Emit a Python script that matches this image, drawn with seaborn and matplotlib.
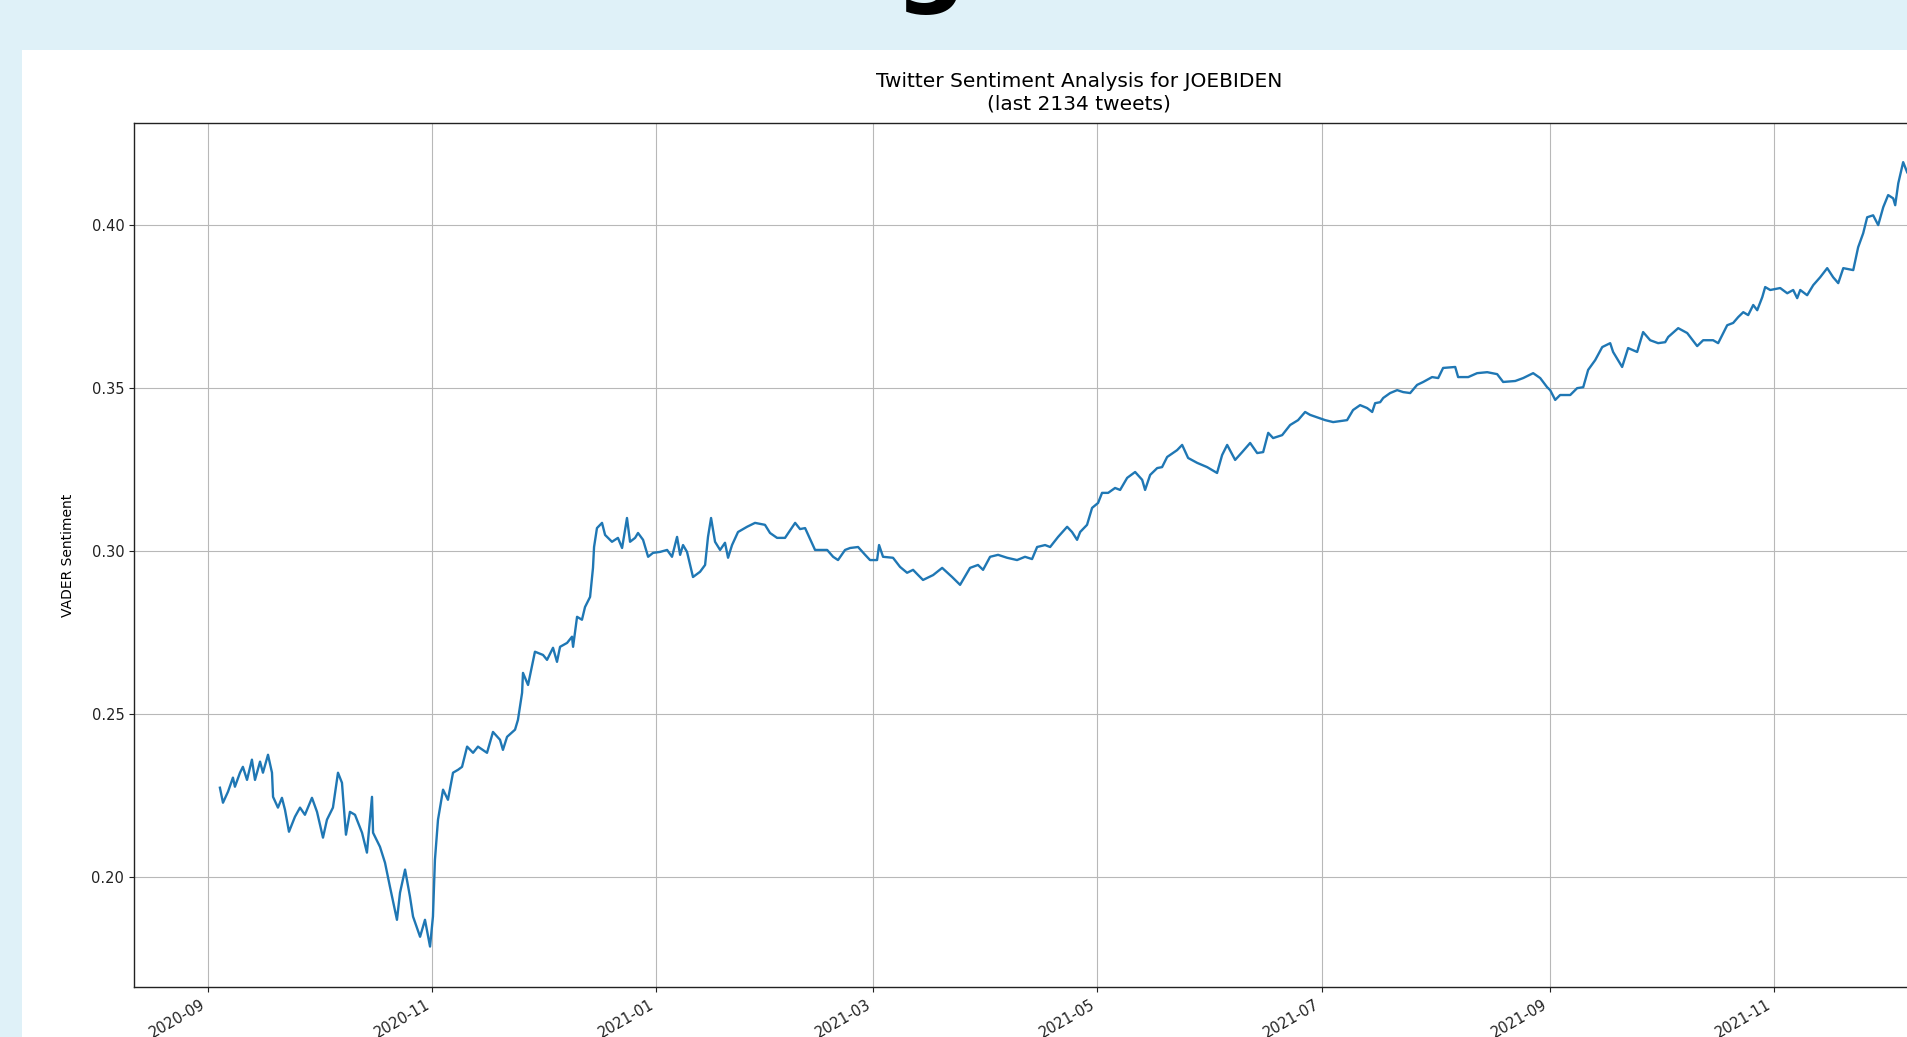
import matplotlib
matplotlib.use("Agg")
import matplotlib.pyplot as plt
import matplotlib.dates as mdates
from matplotlib.patches import Rectangle
import pandas as pd
import seaborn as sns

# Rolling VADER sentiment of tweets mentioning JOEBIDEN
timestamps = [
    # Sep - early Nov 2020
    "2020-09-04 06:00", "2020-09-05 02:00", "2020-09-06 11:00", "2020-09-07 19:00",
    "2020-09-08 08:00", "2020-09-09 17:00", "2020-09-10 12:00", "2020-09-11 15:00",
    "2020-09-12 23:00", "2020-09-13 19:00", "2020-09-15 04:00", "2020-09-15 23:00",
    "2020-09-17 08:00", "2020-09-18 10:00", "2020-09-18 17:00", "2020-09-20 01:00",
    "2020-09-21 03:00", "2020-09-21 23:00", "2020-09-23 01:00", "2020-09-24 16:00",
    "2020-09-26 01:00", "2020-09-27 09:00", "2020-09-29 07:00", "2020-09-30 16:00",
    "2020-10-02 07:00", "2020-10-03 09:00", "2020-10-05 00:00", "2020-10-06 09:00",
    "2020-10-07 11:00", "2020-10-08 13:00", "2020-10-09 15:00", "2020-10-11 00:00",
    "2020-10-12 22:00", "2020-10-14 06:00", "2020-10-15 15:00", "2020-10-15 22:00",
    "2020-10-17 19:00", "2020-10-19 04:00", "2020-10-20 12:00", "2020-10-22 10:00",
    "2020-10-23 06:00", "2020-10-24 15:00", "2020-10-25 23:00", "2020-10-26 19:00",
    "2020-10-28 17:00", "2020-10-30 01:00", "2020-10-31 10:00", "2020-11-01 05:00",
    "2020-11-01 18:00", "2020-11-02 14:00", "2020-11-03 23:00", "2020-11-05 07:00",
    "2020-11-06 16:00", "2020-11-08 01:00",
    # Nov 2020 - early Jan 2021
    "2020-11-09 03:00", "2020-11-10 12:00", "2020-11-12 03:00", "2020-11-13 11:00",
    "2020-11-15 22:00", "2020-11-17 13:00", "2020-11-19 11:00", "2020-11-20 06:00",
    "2020-11-21 09:00", "2020-11-23 13:00", "2020-11-24 08:00", "2020-11-25 11:00",
    "2020-11-25 17:00", "2020-11-27 02:00", "2020-11-28 23:00", "2020-12-01 04:00",
    "2020-12-02 06:00", "2020-12-03 21:00", "2020-12-04 23:00", "2020-12-05 19:00",
    "2020-12-07 17:00", "2020-12-09 01:00", "2020-12-09 08:00", "2020-12-10 10:00",
    "2020-12-11 18:00", "2020-12-12 14:00", "2020-12-13 23:00", "2020-12-14 18:00",
    "2020-12-15 01:00", "2020-12-15 20:00", "2020-12-17 05:00", "2020-12-18 01:00",
    "2020-12-19 22:00", "2020-12-21 13:00", "2020-12-22 16:00", "2020-12-24 00:00",
    "2020-12-24 20:00", "2020-12-26 05:00", "2020-12-27 00:00", "2020-12-28 09:00",
    "2020-12-29 18:00", "2020-12-31 02:00", "2021-01-02 00:00", "2021-01-03 22:00",
    "2021-01-05 06:00", "2021-01-06 15:00",
    # Jan - early Apr 2021
    "2021-01-07 11:00", "2021-01-08 06:00", "2021-01-09 08:00", "2021-01-10 23:00",
    "2021-01-12 21:00", "2021-01-14 06:00", "2021-01-15 01:00", "2021-01-15 21:00",
    "2021-01-16 23:00", "2021-01-18 08:00", "2021-01-19 16:00", "2021-01-20 12:00",
    "2021-01-21 14:00", "2021-01-23 05:00", "2021-01-25 16:00", "2021-01-27 20:00",
    "2021-01-30 13:00", "2021-01-31 22:00", "2021-02-02 20:00", "2021-02-05 00:00",
    "2021-02-07 18:00", "2021-02-09 02:00", "2021-02-10 11:00", "2021-02-13 04:00",
    "2021-02-16 11:00", "2021-02-18 02:00", "2021-02-19 10:00", "2021-02-21 08:00",
    "2021-02-22 17:00", "2021-02-24 21:00", "2021-02-26 19:00", "2021-02-28 03:00",
    "2021-03-02 01:00", "2021-03-02 14:00", "2021-03-03 16:00", "2021-03-06 09:00",
    "2021-03-08 07:00", "2021-03-10 05:00", "2021-03-11 20:00", "2021-03-13 05:00",
    "2021-03-14 13:00", "2021-03-17 07:00", "2021-03-19 18:00", "2021-03-22 11:00",
    "2021-03-24 15:00", "2021-03-27 08:00", "2021-03-29 12:00", "2021-03-30 21:00",
    "2021-04-01 19:00", "2021-04-03 23:00",
    # Apr - mid Jul 2021
    "2021-04-06 10:00", "2021-04-09 03:00", "2021-04-11 07:00", "2021-04-13 05:00",
    "2021-04-14 14:00", "2021-04-16 18:00", "2021-04-18 03:00", "2021-04-20 07:00",
    "2021-04-22 18:00", "2021-04-24 02:00", "2021-04-25 11:00", "2021-04-26 07:00",
    "2021-04-28 04:00", "2021-04-29 13:00", "2021-05-01 04:00", "2021-05-02 06:00",
    "2021-05-03 22:00", "2021-05-05 19:00", "2021-05-07 04:00", "2021-05-09 02:00",
    "2021-05-11 06:00", "2021-05-13 04:00", "2021-05-13 23:00", "2021-05-15 08:00",
    "2021-05-17 06:00", "2021-05-18 14:00", "2021-05-19 23:00", "2021-05-22 16:00",
    "2021-05-24 01:00", "2021-05-25 16:00", "2021-05-28 03:00", "2021-05-30 20:00",
    "2021-06-02 13:00", "2021-06-03 22:00", "2021-06-05 07:00", "2021-06-07 11:00",
    "2021-06-09 09:00", "2021-06-11 13:00", "2021-06-13 11:00", "2021-06-15 02:00",
    "2021-06-16 11:00", "2021-06-17 19:00", "2021-06-20 06:00", "2021-06-22 10:00",
    "2021-06-24 14:00", "2021-06-26 12:00", "2021-06-27 21:00", "2021-07-01 23:00",
    "2021-07-04 03:00", "2021-07-07 22:00", "2021-07-09 13:00", "2021-07-11 11:00",
    # Jul - Sep 2021
    "2021-07-13 09:00", "2021-07-14 18:00", "2021-07-15 13:00", "2021-07-16 22:00",
    "2021-07-17 18:00", "2021-07-19 15:00", "2021-07-21 13:00", "2021-07-23 04:00",
    "2021-07-25 02:00", "2021-07-26 23:00", "2021-07-28 15:00", "2021-07-31 01:00",
    "2021-08-01 17:00", "2021-08-03 01:00", "2021-08-06 08:00", "2021-08-07 03:00",
    "2021-08-09 21:00", "2021-08-12 07:00", "2021-08-15 01:00", "2021-08-17 18:00",
    "2021-08-19 09:00", "2021-08-22 16:00", "2021-08-24 20:00", "2021-08-27 13:00",
    "2021-08-29 11:00", "2021-08-31 08:00", "2021-09-01 04:00", "2021-09-02 13:00",
    "2021-09-03 21:00", "2021-09-06 15:00", "2021-09-08 12:00", "2021-09-10 04:00",
    "2021-09-11 12:00", "2021-09-13 10:00", "2021-09-15 08:00", "2021-09-17 12:00",
    "2021-09-18 07:00", "2021-09-20 18:00", "2021-09-22 09:00", "2021-09-24 20:00",
    # late Sep - Dec 2021
    "2021-09-26 11:00", "2021-09-28 09:00", "2021-09-30 13:00", "2021-10-02 11:00",
    "2021-10-03 07:00", "2021-10-06 00:00", "2021-10-08 11:00", "2021-10-11 04:00",
    "2021-10-12 19:00", "2021-10-15 12:00", "2021-10-16 21:00", "2021-10-19 08:00",
    "2021-10-20 23:00", "2021-10-22 08:00", "2021-10-23 17:00", "2021-10-25 01:00",
    "2021-10-26 10:00", "2021-10-27 12:00", "2021-10-28 21:00", "2021-10-29 16:00",
    "2021-10-31 01:00", "2021-11-02 18:00", "2021-11-04 16:00", "2021-11-06 07:00",
    "2021-11-07 09:00", "2021-11-08 05:00", "2021-11-10 02:00", "2021-11-11 18:00",
    "2021-11-13 15:00", "2021-11-15 13:00", "2021-11-17 04:00", "2021-11-18 13:00",
    "2021-11-19 22:00", "2021-11-22 15:00", "2021-11-23 23:00", "2021-11-25 08:00",
    "2021-11-26 10:00", "2021-11-28 01:00", "2021-11-29 10:00", "2021-11-30 19:00",
    "2021-12-02 03:00", "2021-12-03 12:00", "2021-12-04 01:00", "2021-12-04 21:00",
    "2021-12-06 05:00", "2021-12-07 07:00",
]

sentiment = [
    # Sep - early Nov 2020
    0.2274, 0.2228, 0.2262, 0.2305,
    0.2277, 0.2320, 0.2338, 0.2298,
    0.2360, 0.2298, 0.2354, 0.2320,
    0.2375, 0.2320, 0.2246, 0.2213,
    0.2243, 0.2206, 0.2139, 0.2185,
    0.2213, 0.2191, 0.2243, 0.2200,
    0.2121, 0.2176, 0.2213, 0.2320,
    0.2289, 0.2130, 0.2200, 0.2191,
    0.2136, 0.2075, 0.2246, 0.2136,
    0.2093, 0.2044, 0.1971, 0.1869,
    0.1952, 0.2023, 0.1940, 0.1879,
    0.1817, 0.1869, 0.1787, 0.1879,
    0.2053, 0.2176, 0.2268, 0.2237,
    0.2320, 0.2329,
    # Nov 2020 - early Jan 2021
    0.2338, 0.2400, 0.2381, 0.2400,
    0.2381, 0.2445, 0.2421, 0.2390,
    0.2430, 0.2452, 0.2482, 0.2565,
    0.2626, 0.2589, 0.2691, 0.2681,
    0.2666, 0.2703, 0.2660, 0.2706,
    0.2718, 0.2737, 0.2706, 0.2798,
    0.2789, 0.2828, 0.2859, 0.2948,
    0.3012, 0.3070, 0.3086, 0.3049,
    0.3028, 0.3040, 0.3009, 0.3101,
    0.3028, 0.3040, 0.3055, 0.3034,
    0.2982, 0.2994, 0.2997, 0.3003,
    0.2982, 0.3043,
    # Jan - early Apr 2021
    0.2988, 0.3018, 0.2997, 0.2920,
    0.2936, 0.2957, 0.3043, 0.3101,
    0.3028, 0.3003, 0.3025, 0.2979,
    0.3018, 0.3058, 0.3074, 0.3086,
    0.3080, 0.3055, 0.3040, 0.3040,
    0.3086, 0.3067, 0.3070, 0.3003,
    0.3003, 0.2982, 0.2972, 0.3003,
    0.3009, 0.3012, 0.2988, 0.2972,
    0.2972, 0.3018, 0.2982, 0.2979,
    0.2951, 0.2933, 0.2942, 0.2926,
    0.2911, 0.2926, 0.2948, 0.2920,
    0.2896, 0.2948, 0.2957, 0.2942,
    0.2982, 0.2988,
    # Apr - mid Jul 2021
    0.2979, 0.2972, 0.2982, 0.2975,
    0.3012, 0.3018, 0.3012, 0.3043,
    0.3074, 0.3058, 0.3034, 0.3058,
    0.3080, 0.3132, 0.3147, 0.3178,
    0.3178, 0.3193, 0.3187, 0.3224,
    0.3242, 0.3218, 0.3187, 0.3233,
    0.3254, 0.3257, 0.3288, 0.3309,
    0.3325, 0.3285, 0.3270, 0.3257,
    0.3239, 0.3294, 0.3325, 0.3279,
    0.3303, 0.3331, 0.3300, 0.3303,
    0.3362, 0.3346, 0.3355, 0.3386,
    0.3401, 0.3426, 0.3417, 0.3401,
    0.3395, 0.3401, 0.3432, 0.3447,
    # Jul - Sep 2021
    0.3438, 0.3426, 0.3453, 0.3456,
    0.3469, 0.3484, 0.3493, 0.3487,
    0.3484, 0.3509, 0.3518, 0.3533,
    0.3530, 0.3561, 0.3564, 0.3533,
    0.3533, 0.3545, 0.3548, 0.3542,
    0.3518, 0.3521, 0.3530, 0.3545,
    0.3530, 0.3502, 0.3493, 0.3463,
    0.3478, 0.3478, 0.3499, 0.3502,
    0.3555, 0.3585, 0.3625, 0.3637,
    0.3610, 0.3564, 0.3622, 0.3610,
    # late Sep - Dec 2021
    0.3671, 0.3646, 0.3637, 0.3640,
    0.3656, 0.3683, 0.3668, 0.3628,
    0.3646, 0.3646, 0.3637, 0.3692,
    0.3699, 0.3717, 0.3732, 0.3723,
    0.3754, 0.3738, 0.3778, 0.3809,
    0.3800, 0.3806, 0.3790, 0.3800,
    0.3775, 0.3800, 0.3784, 0.3815,
    0.3839, 0.3867, 0.3839, 0.3821,
    0.3867, 0.3861, 0.3931, 0.3974,
    0.4023, 0.4029, 0.3999, 0.4054,
    0.4091, 0.4081, 0.4060, 0.4127,
    0.4192, 0.4161,
]

title_text = "Twitter Sentiment Analysis for JOEBIDEN\n(last 2134 tweets)"
y_label = "VADER Sentiment"
month_ticks = [1, 3, 5, 7, 9, 11]

df = pd.DataFrame({"date": pd.to_datetime(timestamps), "sentiment": sentiment})

plt.rcParams["font.family"] = ["DejaVu Sans"]
plt.rcParams["axes.linewidth"] = 1.0
plt.rcParams["grid.color"] = "#b8b8b8"
plt.rcParams["grid.linewidth"] = 0.8

fig = plt.figure(figsize=(19.08, 10.37), dpi=100, facecolor="#dff1f8")

# white card that holds the chart
fig.add_artist(Rectangle((22 / 1908, 0), 1.0, (1037 - 50) / 1037,
                         transform=fig.transFigure, facecolor="white",
                         edgecolor="none", zorder=-5))

# descender of the page heading above the card
fig.text(930 / 1908, 1 - 15 / 1037, "g", ha="center", va="bottom",
         fontsize=72, fontweight="bold", color="black")

ax = fig.add_axes([134 / 1908, 1 - 987 / 1037, (2024 - 134) / 1908, (987 - 123) / 1037])
ax.set_facecolor("white")

sns.lineplot(data=df, x="date", y="sentiment", ax=ax, color="#1f77b4", linewidth=1.7)

ax.set_xlim(pd.Timestamp("2020-08-11 21:00"), pd.Timestamp("2022-01-08 02:00"))
ax.set_ylim(0.1663, 0.4312)
ax.xaxis.set_major_locator(mdates.MonthLocator(bymonth=month_ticks))
ax.xaxis.set_major_formatter(mdates.DateFormatter("%Y-%m"))
for lbl in ax.get_xticklabels():
    lbl.set_rotation(30)
    lbl.set_ha("right")

ax.grid(True)
ax.set_axisbelow(True)
for sp in ax.spines.values():
    sp.set_color("#222222")

ax.set_title(title_text, fontsize=14.5, pad=10)
ax.set_ylabel(y_label, fontsize=10, labelpad=12)
ax.set_xlabel("")
ax.tick_params(labelsize=10.5, colors="#222222")

fig.savefig("out.png", dpi=100, facecolor=fig.get_facecolor())
